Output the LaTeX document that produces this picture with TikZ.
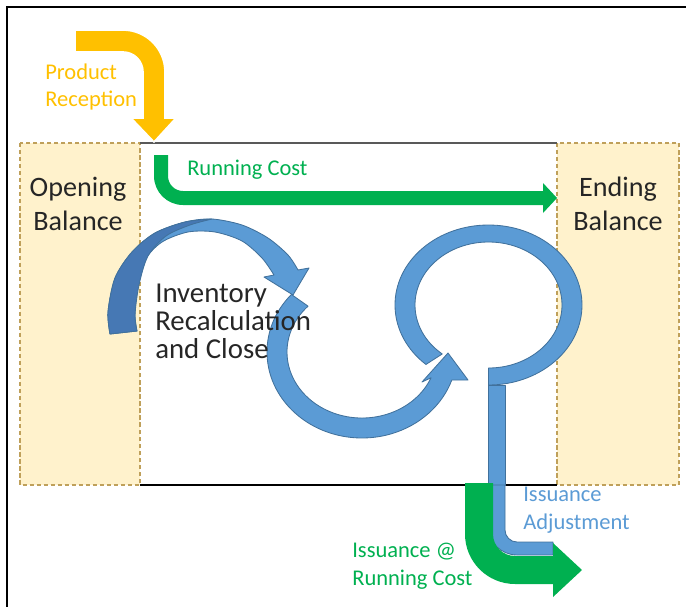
\documentclass[tikz,border=0pt]{standalone}
\usepackage{fontspec}
\setmainfont{Carlito}
\definecolor{invyellow}{RGB}{255,192,0}
\definecolor{invgreen}{RGB}{0,176,80}
\definecolor{invblue}{RGB}{91,155,213}
\definecolor{invblueline}{RGB}{65,113,156}
\definecolor{invbluedark}{RGB}{70,120,180}
\definecolor{invbox}{RGB}{255,242,204}
\definecolor{invboxline}{RGB}{191,160,90}
\definecolor{invgray}{RGB}{89,89,89}
\definecolor{invtext}{RGB}{38,38,38}

\begin{document}
\begin{tikzpicture}[x=0.025cm,y=-0.025cm,
    balbox/.style={fill=invbox,draw=invboxline,dash pattern=on 3pt off 2pt,line width=0.9pt},
    blueshape/.style={fill=invblue,draw=invblueline,line width=0.6pt,line join=round},
    small/.style={font=\fontsize{16}{19.8}\selectfont,align=left,inner sep=0pt,anchor=west},
    big/.style={font=\fontsize{20}{24}\selectfont,align=center,inner sep=0pt,text=invtext}]
  \useasboundingbox (0,0) rectangle (686,607);
  \draw[line width=1.8pt] (686,7) -- (7,7) -- (7,607);
  % balance boxes and period
  \draw[balbox] (20,143) rectangle (140,485);
  \draw[balbox] (557,143) rectangle (679,485);
  \draw[invgray,line width=1.4pt] (140,143) -- (557,143);
  \draw[line width=1pt] (140,485) -- (557,485);
  % recalculation arrows
  \filldraw[blueshape] plot[smooth] coordinates {(110,334) (108,312) (115,278) (132,252) (155,233) (185,222) (212,219) (242,225) (268,238) (288,255) (298,270)}
    -- (309,268) -- (293,295) -- (264,277) -- (274,275)
    -- plot[smooth] coordinates {(274,275) (262,258) (242,241) (215,232) (188,232) (162,242) (145,260) (137,288) (135,315) (137,331)} -- cycle;
  \filldraw[blueshape,fill=invbluedark] plot[smooth] coordinates {(110,334) (108,312) (115,278) (132,252) (155,233) (185,222) (212,219)}
    -- plot[smooth] coordinates {(212,219) (190,225) (166,236) (148,256) (139,285) (135,315) (137,331)} -- cycle;
  \filldraw[blueshape] ([shift={(222:95 and 86)}]362,352) arc[start angle=222,end angle=19,x radius=95,y radius=86]
    -- (468,380) -- (448,353) -- (422,382) -- ([shift={(23:75 and 66)}]362,352)
    arc[start angle=23,end angle=224,x radius=75,y radius=66] -- cycle;
  \filldraw[blueshape] ([shift={(132:93.5 and 80)}]488.5,305) arc[start angle=132,end angle=450,x radius=93.5,y radius=80]
    -- (488.5,368) arc[start angle=450,end angle=129,x radius=73.5,y radius=63] -- cycle;
  \filldraw[blueshape] (488.5,385) rectangle (505,485);
  \filldraw[blueshape] (488,485) -- (488,526) arc[start angle=180,end angle=90,radius=29] -- (553,555) -- (553,542)
    -- (517,542) arc[start angle=90,end angle=180,radius=12] -- (505,485) -- cycle;
  % cost flows
  \fill[invgreen] (465,483) -- (465,534) arc[start angle=180,end angle=90,radius=50] -- (553,584) -- (553,597) -- (582,570)
    -- (553,543) -- (553,556) -- (515,556) arc[start angle=90,end angle=180,radius=22] -- (493,483) -- cycle;
  \fill[invgreen] (154,155) -- (154,176) arc[start angle=180,end angle=90,radius=29] -- (543,205) -- (543,213) -- (557,198)
    -- (543,183) -- (543,191) -- (183,191) arc[start angle=90,end angle=180,radius=15] -- (168,155) -- cycle;
  \filldraw[fill=invyellow,draw=white,line width=1.2pt] (75,30) -- (123,30) arc[start angle=270,end angle=360,radius=42] -- (165,118) -- (176,118) -- (154,142)
    -- (131,118) -- (143,118) -- (143,72) arc[start angle=360,end angle=270,radius=20] -- (75,52) -- cycle;
  % labels
  \node[big] (opening) at (78,204) {Opening\\Balance};
  \node[big] (ending) at (618,204) {Ending\\Balance};
  \node[small,text=invtext,font=\fontsize{20.5}{20}\selectfont] (recalc) at (155,321) {Inventory\\Recalculation\\and Close};
  \node[small,invyellow] (reception) at (45,87) {Product\\Reception};
  \node[small,invgreen] (runcost) at (187,170) {Running Cost};
  \node[small,invblue] (issadj) at (523,510) {Issuance\\Adjustment};
  \node[small,invgreen] (issrun) at (352,566) {Issuance @\\Running Cost};
\end{tikzpicture}
\end{document}
